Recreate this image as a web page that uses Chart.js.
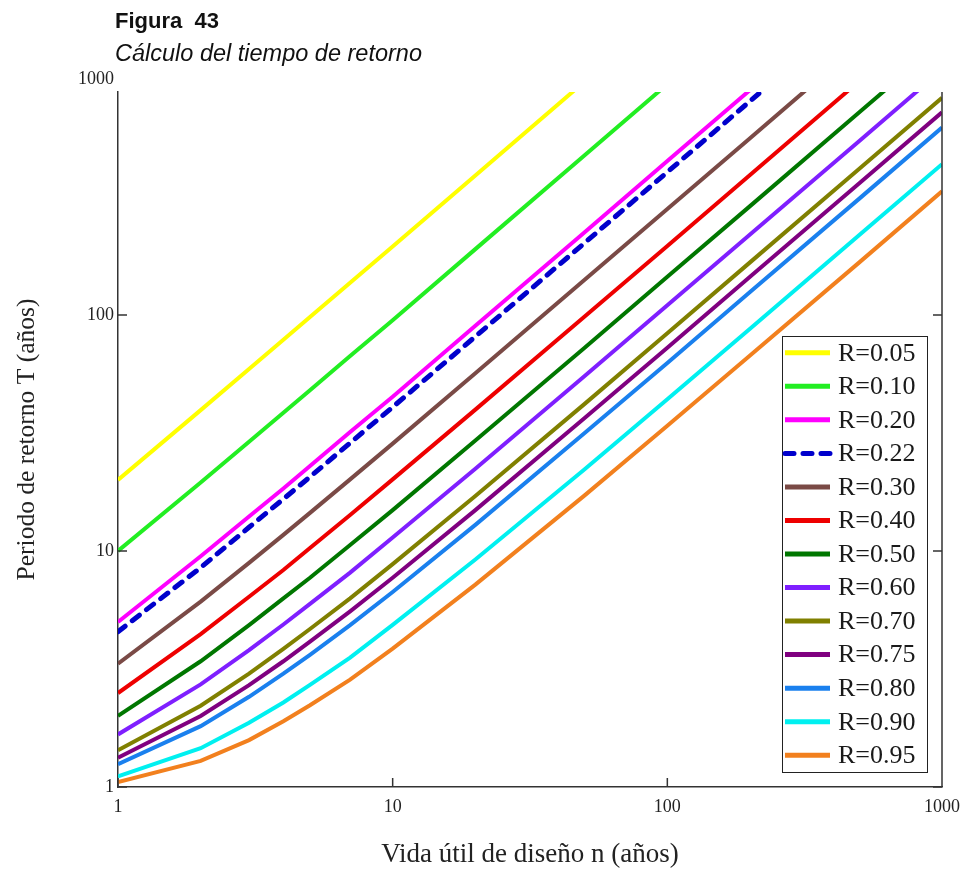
<!DOCTYPE html>
<html>
<head>
<meta charset="utf-8">
<script src="https://cdn.jsdelivr.net/npm/chart.js@4/dist/chart.umd.min.js"></script>
<style>
  html, body { margin: 0; padding: 0; background: #fff; }
  #wrap { position: relative; width: 970px; height: 872px; }
  #fig { position: absolute; left: 115px; top: 8px; font: bold 22px "Liberation Sans", Arial, sans-serif; color: #111; white-space: pre; }
  #sub { position: absolute; left: 115px; top: 40px; font: italic 23.5px "Liberation Sans", Arial, sans-serif; color: #111; }
</style>
</head>
<body>
<div id="wrap">
  <canvas id="chart" width="970" height="872"></canvas>
  <div id="fig">Figura  43</div>
  <div id="sub">Cálculo del tiempo de retorno</div>
</div>
<script>
// design life n (years)
const years = [1, 2, 3, 4, 5, 7, 10, 20, 50, 100, 200, 500, 1000];

// return period T, one array per risk R
const r05 = [20, 39.5, 59, 78.5, 98, 137, 195, 390, 975, 1950];
const r10 = [10, 19.5, 29, 38.5, 48, 67, 95, 190, 475, 950, 1900];
const r20 = [5, 9.5, 14, 18.4, 22.9, 31.9, 45, 90, 224, 449, 897, 2240];
const r22 = [4.55, 8.5, 12.6, 16.6, 20.6, 28.7, 40.7, 81, 202, 403, 805, 2012];
const r30 = [3.33, 6.1, 8.9, 11.7, 14.5, 20.1, 28.5, 56.6, 141, 281, 561, 1402];
const r40 = [2.5, 4.44, 6.4, 8.3, 10.3, 14.2, 20.1, 39.7, 98.4, 196, 392, 979];
const r50 = [2, 3.41, 4.85, 6.3, 7.7, 10.6, 14.9, 29.4, 72.6, 145, 289, 722, 1443];
const r60 = [1.67, 2.72, 3.8, 4.88, 5.97, 8.1, 11.4, 22.3, 55.1, 110, 219, 546, 1092];
const r70 = [1.43, 2.21, 3.02, 3.85, 4.67, 6.3, 8.8, 17.1, 42, 83.6, 167, 416, 831];
const r75 = [1.33, 2, 2.7, 3.41, 4.13, 5.55, 7.7, 14.9, 36.6, 72.6, 145, 361, 722];
const r80 = [1.25, 1.81, 2.41, 3.02, 3.63, 4.85, 6.7, 12.9, 31.6, 62.6, 125, 311, 622];
const r90 = [1.11, 1.46, 1.87, 2.28, 2.71, 3.53, 4.86, 9.2, 22.2, 43.9, 87.4, 218, 435];
const r95 = [1.05, 1.29, 1.58, 1.9, 2.22, 2.85, 3.86, 7.2, 17.2, 33.9, 67.3, 167, 334];

const labels = ['R=0.05', 'R=0.10', 'R=0.20', 'R=0.22', 'R=0.30', 'R=0.40', 'R=0.50',
                'R=0.60', 'R=0.70', 'R=0.75', 'R=0.80', 'R=0.90', 'R=0.95'];
const series = [r05, r10, r20, r22, r30, r40, r50, r60, r70, r75, r80, r90, r95];
const axisTicks = [1, 10, 100, 1000];

const colors = ['#ffff00', '#22ee22', '#ff00ff', '#0000cc', '#7a4a46', '#ee0000', '#007700',
                '#7f1fff', '#808000', '#800080', '#1a80ee', '#00f0f0', '#f2801e'];

const serif = '"Liberation Serif", "Times New Roman", serif';

const datasets = series.map((vals, i) => ({
  label: labels[i],
  data: vals.map((v, j) => ({ x: years[j], y: v })),
  borderColor: colors[i],
  backgroundColor: colors[i],
  borderWidth: i === 3 ? 5 : 4,
  borderDash: i === 3 ? [9, 9] : [],
  borderCapStyle: i === 3 ? 'round' : 'butt',
  pointRadius: 0,
  tension: 0,
  fill: false
}));

// inward tick marks, right frame line and the boxed legend
const frame = {
  id: 'frame',
  afterDraw(chart) {
    const { ctx, chartArea: a, scales: { x, y } } = chart;
    ctx.save();
    ctx.strokeStyle = '#333';
    ctx.lineWidth = 1.5;
    ctx.beginPath();
    ctx.moveTo(a.right, a.top);
    ctx.lineTo(a.right, a.bottom);
    axisTicks.forEach(v => {
      const px = x.getPixelForValue(v);
      ctx.moveTo(px, a.bottom);
      ctx.lineTo(px, a.bottom - 9);
      const py = y.getPixelForValue(v);
      if (py >= a.top) {
        ctx.moveTo(a.left, py);
        ctx.lineTo(a.left + 9, py);
        ctx.moveTo(a.right, py);
        ctx.lineTo(a.right - 9, py);
      }
    });
    ctx.stroke();

    // legend
    const lx = 782, ly = 336, lw = 145, lh = 436;
    const step = lh / labels.length;
    ctx.fillStyle = '#fff';
    ctx.fillRect(lx, ly, lw, lh);
    ctx.strokeStyle = '#222';
    ctx.lineWidth = 1;
    ctx.strokeRect(lx + 0.5, ly + 0.5, lw, lh);
    ctx.font = '26px ' + serif;
    ctx.textBaseline = 'middle';
    chart.data.datasets.forEach((ds, i) => {
      const cy = ly + step * (i + 0.5);
      ctx.strokeStyle = ds.borderColor;
      ctx.lineWidth = 5;
      ctx.lineCap = ds.borderCapStyle;
      ctx.setLineDash(ds.borderDash);
      ctx.beginPath();
      ctx.moveTo(lx + 3, cy);
      ctx.lineTo(lx + 48, cy);
      ctx.stroke();
      ctx.setLineDash([]);
      ctx.fillStyle = '#1a1a1a';
      ctx.fillText(ds.label, lx + 56, cy + 1);
    });
    ctx.restore();
  }
};

new Chart(document.getElementById('chart'), {
  type: 'line',
  data: { datasets },
  options: {
    responsive: false,
    animation: false,
    layout: { padding: { top: 92, right: 28, bottom: 0, left: 0 } },
    plugins: { legend: { display: false }, tooltip: { enabled: false } },
    scales: {
      x: {
        type: 'logarithmic',
        min: 1,
        max: 1000,
        afterBuildTicks: s => { s.ticks = axisTicks.map(v => ({ value: v })); },
        afterFit: s => { s.height = 85; },
        grid: { display: false, drawTicks: false },
        border: { display: true, color: '#333', width: 1.5 },
        ticks: {
          autoSkip: false, maxRotation: 0, padding: 9, color: '#222',
          font: { family: serif, size: 18 },
          callback: v => String(v)
        },
        title: {
          display: true, text: 'Vida útil de diseño n (años)', color: '#222',
          font: { family: serif, size: 27 }, padding: { top: 0, bottom: 1 }
        }
      },
      y: {
        type: 'logarithmic',
        min: 1,
        max: 880,
        afterBuildTicks: s => { s.ticks = axisTicks.map(v => ({ value: v })); },
        afterFit: s => { s.width = 118; },
        grid: { display: false, drawTicks: false },
        border: { display: true, color: '#333', width: 1.5 },
        ticks: {
          autoSkip: false, padding: 4, color: '#222',
          font: { family: serif, size: 18 },
          callback: v => String(v)
        },
        title: {
          display: true, text: 'Periodo de retorno T (años)', color: '#222',
          font: { family: serif, size: 25.5 }, padding: { top: 12, bottom: 0 }
        }
      }
    }
  },
  plugins: [frame]
});
</script>
</body>
</html>
